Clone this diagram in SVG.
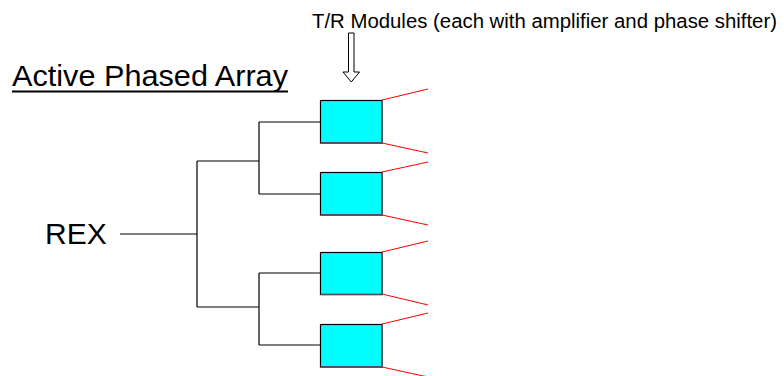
<svg xmlns="http://www.w3.org/2000/svg" width="784" height="376" viewBox="0 0 784 376">
<style>
.txt{font-family:"Liberation Sans",Arial,sans-serif;fill:#000}
.box{fill:#00ffff;stroke:#000;stroke-width:1.2}
.wire{fill:none;stroke:#000;stroke-width:1.2}
.rf{stroke:#ff0000;stroke-width:1}
.shadow{fill:none;stroke:#555;stroke-width:1.5}
</style>
<rect width="784" height="376" fill="#fff"/>
<g id="title">
<text class="txt" x="12" y="86" font-size="30" textLength="276" lengthAdjust="spacingAndGlyphs">Active Phased Array</text>
<rect x="12" y="90.5" width="276" height="2" fill="#000"/>
</g>
<g id="tr-label">
<text class="txt" x="312" y="28" font-size="20" textLength="465" lengthAdjust="spacingAndGlyphs">T/R Modules (each with amplifier and phase shifter)</text>
<path d="M348.5,33 H354 V72 H359.5 L351.25,82 L343,72 H348.5 Z" fill="#fff" stroke="#000" stroke-width="1"/>
</g>
<g id="rex">
<text class="txt" x="45" y="244" font-size="30">REX</text>
</g>
<g id="connectors">
<path class="wire" d="M120,234 H197 M197,161 V307 M197,161 H259 M197,307 H259 M259,122 V194 M259,122 H320 M259,194 H320 M259,273 V345 M259,273 H320 M259,345 H320"/>
<line class="rf" x1="382" y1="100" x2="428" y2="89"/>
<line class="rf" x1="382" y1="143" x2="428" y2="153"/>
<line class="rf" x1="382" y1="172" x2="428" y2="162"/>
<line class="rf" x1="382" y1="215" x2="428" y2="225"/>
<line class="rf" x1="382" y1="252" x2="428" y2="241"/>
<line class="rf" x1="382" y1="294" x2="428" y2="305"/>
<line class="rf" x1="382" y1="324" x2="428" y2="313"/>
<line class="rf" x1="382" y1="367" x2="428" y2="377"/>
</g>
<g id="module1">
<rect class="box" x="320.5" y="100.5" width="61.5" height="42.5"/>
<path class="shadow" d="M320.5,143 H382 V100.5"/>
</g>
<g id="module2">
<rect class="box" x="320.5" y="172.5" width="61.5" height="42.5"/>
<path class="shadow" d="M320.5,215 H382 V172.5"/>
</g>
<g id="module3">
<rect class="box" x="320.5" y="252.5" width="61.5" height="42"/>
<path class="shadow" d="M320.5,294.5 H382 V252.5"/>
</g>
<g id="module4">
<rect class="box" x="320.5" y="324.5" width="61.5" height="42.5"/>
<path class="shadow" d="M320.5,367 H382 V324.5"/>
</g>
</svg>
